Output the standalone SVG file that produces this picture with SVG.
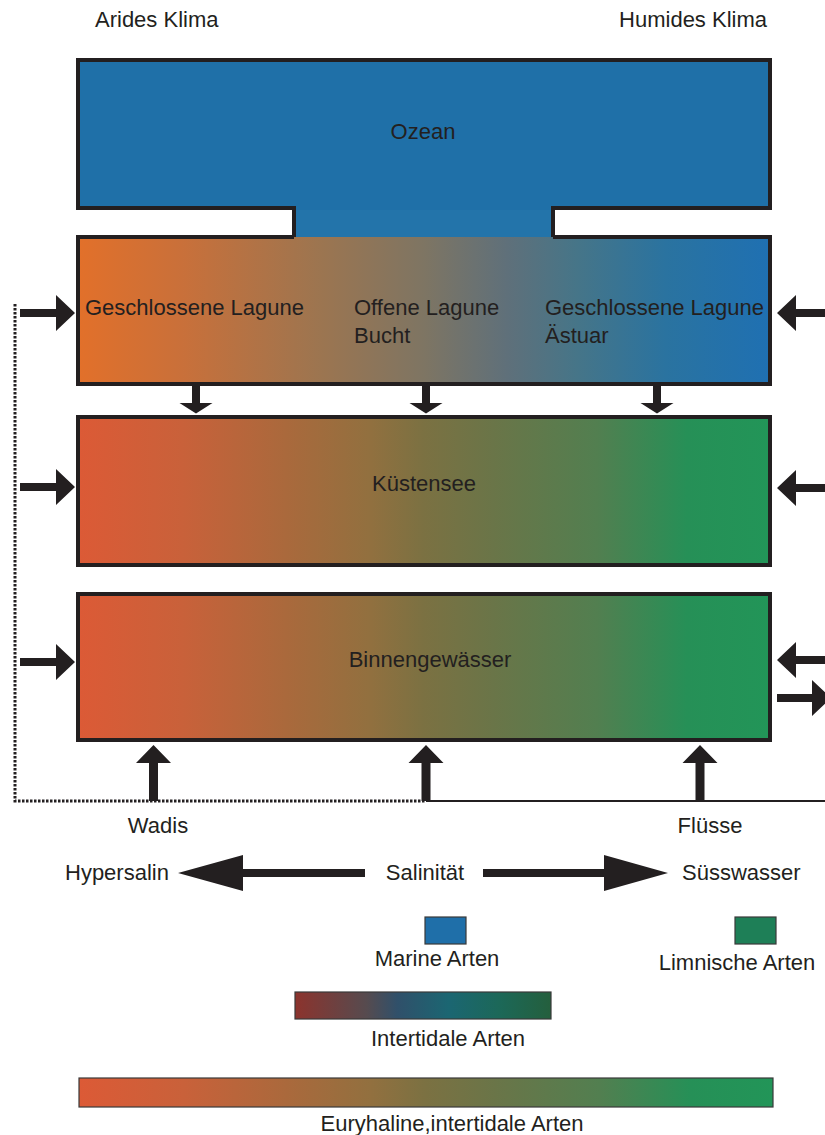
<svg xmlns="http://www.w3.org/2000/svg" width="825" height="1135" viewBox="0 0 825 1135">
<defs>
<linearGradient id="gLag" x1="0" y1="0" x2="1" y2="0">
<stop offset="0" stop-color="#e2702a"/>
<stop offset="0.15" stop-color="#c9703a"/>
<stop offset="0.35" stop-color="#9c7550"/>
<stop offset="0.5" stop-color="#7e7563"/>
<stop offset="0.62" stop-color="#5f707a"/>
<stop offset="0.72" stop-color="#467588"/>
<stop offset="0.85" stop-color="#2a73a0"/>
<stop offset="1" stop-color="#1f70b2"/>
</linearGradient>
<linearGradient id="gEury" x1="0" y1="0" x2="1" y2="0">
<stop offset="0" stop-color="#dc5a36"/>
<stop offset="0.15" stop-color="#c9613a"/>
<stop offset="0.3" stop-color="#aa693c"/>
<stop offset="0.42" stop-color="#92703f"/>
<stop offset="0.5" stop-color="#7b7142"/>
<stop offset="0.6" stop-color="#6a7548"/>
<stop offset="0.75" stop-color="#527f50"/>
<stop offset="0.88" stop-color="#269057"/>
<stop offset="1" stop-color="#229558"/>
</linearGradient>
<linearGradient id="gInter" x1="0" y1="0" x2="1" y2="0">
<stop offset="0" stop-color="#8c332d"/>
<stop offset="0.28" stop-color="#564b4f"/>
<stop offset="0.4" stop-color="#30506a"/>
<stop offset="0.6" stop-color="#1b6672"/>
<stop offset="0.8" stop-color="#1c6858"/>
<stop offset="1" stop-color="#245f3d"/>
</linearGradient>
<style>
.t{font-family:"Liberation Sans",Arial,sans-serif;font-size:22px;fill:#231f20}
.c{text-anchor:middle}
.box{stroke:#231f20;stroke-width:4}
.open{stroke:#231f20;stroke-width:4;fill:none}
.eury{fill:url(#gEury)}
.a{fill:#231f20}
.ln{stroke:#231f20;stroke-width:2;fill:none}
.dot{stroke:#231f20;stroke-width:3;fill:none;stroke-dasharray:2.5 1.5}
.leg{stroke:#3a3a3a;stroke-width:1.2}
</style>
</defs>

<text class="t" x="95" y="27">Arides Klima</text>
<text class="t" x="767" y="27" text-anchor="end">Humides Klima</text>

<g id="lagune">
<rect x="78" y="237" width="692" height="147" fill="url(#gLag)"/>
<path class="open" d="M294,237 H78 V384 H770 V237 H553"/>
<text class="t" x="85" y="315">Geschlossene Lagune</text>
<text class="t" x="354" y="315">Offene Lagune</text>
<text class="t" x="354" y="343">Bucht</text>
<text class="t" x="545" y="315">Geschlossene Lagune</text>
<text class="t" x="545" y="343">Ästuar</text>
</g>

<g id="ozean">
<path d="M78,60 H770 V208 H553 V237 H294 V208 H78 Z" fill="#1f70a8"/>
<rect x="296" y="210" width="255" height="27" fill="#2374aa"/>
<path class="open" d="M294,237 V208 H78 V60 H770 V208 H553 V237"/>
<text class="t c" x="423" y="139">Ozean</text>
</g>

<g id="kuestensee">
<rect class="box eury" x="78" y="417" width="692" height="148"/>
<text class="t c" x="424" y="491">Küstensee</text>
</g>

<g id="binnen">
<rect class="box eury" x="78" y="594" width="692" height="146"/>
<text class="t c" x="430" y="667">Binnengewässer</text>
</g>

<g id="connectors">
<polygon class="a" points="192,385 200,385 200,403 212.5,403 196,413.5 179.5,403 192,403"/>
<polygon class="a" points="422,385 430,385 430,403 442.5,403 426,413.5 409.5,403 422,403"/>
<polygon class="a" points="653,385 661,385 661,403 673.5,403 657,413.5 640.5,403 653,403"/>
<polygon class="a" points="20,309 56,309 56,295 75,313 56,331 56,317 20,317"/>
<polygon class="a" points="20,483 56,483 56,469 75,487 56,505 56,491 20,491"/>
<polygon class="a" points="20,658 56,658 56,644 75,662 56,680 56,666 20,666"/>
<polygon class="a" points="826,309 796,309 796,295 777,313 796,331 796,317 826,317"/>
<polygon class="a" points="826,484 796,484 796,470 777,488 796,506 796,492 826,492"/>
<polygon class="a" points="826,656 796,656 796,642 777,660 796,678 796,664 826,664"/>
<polygon class="a" points="777,694 812,694 812,680 831,698 812,716 812,702 777,702"/>
<polygon class="a" points="149,801 158,801 158,763 171,763 153.5,745 136,763 149,763"/>
<polygon class="a" points="421.5,801 430.5,801 430.5,763 443.5,763 426,745 408.5,763 421.5,763"/>
<polygon class="a" points="695.5,801 704.5,801 704.5,763 717.5,763 700,745 682.5,763 695.5,763"/>
<path class="dot" d="M15,304 V801 H426"/>
<path class="ln" d="M426,801 H825"/>
</g>

<g id="labels">
<text class="t c" x="158" y="833">Wadis</text>
<text class="t c" x="710" y="833">Flüsse</text>
</g>

<g id="salinitaet">
<polygon class="a" points="365,869 243,869 243,855 178,873 243,891 243,877 365,877"/>
<polygon class="a" points="483,869 604,869 604,855 668,873 604,891 604,877 483,877"/>
<text class="t" x="65" y="880">Hypersalin</text>
<text class="t c" x="425" y="880">Salinität</text>
<text class="t" x="682" y="880">Süsswasser</text>
</g>

<g id="legende">
<rect class="leg" x="425" y="917" width="41" height="27" fill="#1f6fa9"/>
<text class="t c" x="437" y="966">Marine Arten</text>
<rect class="leg" x="735" y="917" width="41" height="27" fill="#1e7f57"/>
<text class="t c" x="737" y="970">Limnische Arten</text>
<rect class="leg" x="295" y="992" width="256" height="27" fill="url(#gInter)"/>
<text class="t c" x="448" y="1046">Intertidale Arten</text>
<rect class="leg" x="79" y="1078" width="694" height="29" fill="url(#gEury)" stroke-width="2"/>
<text class="t c" x="452" y="1131">Euryhaline,intertidale Arten</text>
</g>
</svg>
